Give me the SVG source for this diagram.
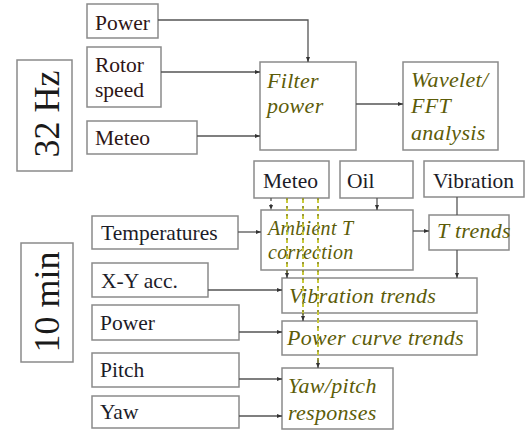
<svg xmlns="http://www.w3.org/2000/svg" width="531" height="432" viewBox="0 0 531 432">
<style>
  .box{fill:#fff;stroke:#8a8a8a;stroke-width:1.5}
  .lbl{font-family:"Liberation Serif","Times New Roman",serif;font-size:21.5px;fill:#1c1c28}
  .lblr{font-family:"Liberation Serif","Times New Roman",serif;font-size:21.5px;fill:#2e1616}
  .big{font-family:"Liberation Serif","Times New Roman",serif;font-size:36px;fill:#1a1a1a}
  .it{font-family:"Liberation Serif","Times New Roman",serif;font-style:italic;font-size:22px;fill:#5c5c08;letter-spacing:0.3px}
  .its{font-size:20px}
  .ln{fill:none;stroke:#555;stroke-width:1.3}
  .dk{fill:none;stroke:#555;stroke-width:1.3;stroke-dasharray:3 3}
  .yl{fill:none;stroke:#c9c93a;stroke-width:2;stroke-dasharray:5 3}
  .yd{fill:none;stroke:#6a6a30;stroke-width:1;stroke-dasharray:2 6}
</style>
<defs>
  <marker id="ah" viewBox="0 0 10 10" refX="10" refY="5" markerWidth="5" markerHeight="5" orient="auto" markerUnits="userSpaceOnUse">
    <path d="M0,1 L10,5 L0,9 z" fill="#333"/>
  </marker>
</defs>
<rect width="531" height="432" fill="#fff"/>

<g id="label-32hz">
  <rect class="box" x="17" y="60" width="55" height="111"/>
  <text class="big" transform="translate(59,114) rotate(-90)" text-anchor="middle">32 Hz</text>
</g>
<g id="label-10min">
  <rect class="box" x="21" y="243" width="52" height="119"/>
  <text class="big" transform="translate(59,302) rotate(-90)" text-anchor="middle">10 min</text>
</g>

<g id="power-hz">
  <rect class="box" x="87" y="4" width="71" height="34"/>
  <text class="lblr" x="95" y="30">Power</text>
</g>
<g id="rotor-speed">
  <rect class="box" x="87" y="47" width="74" height="60"/>
  <text class="lblr" x="95" y="72">Rotor</text>
  <text class="lblr" x="95" y="97">speed</text>
</g>
<g id="meteo-hz">
  <rect class="box" x="87" y="121" width="110" height="33"/>
  <text class="lblr" x="95" y="145">Meteo</text>
</g>
<g id="filter-power">
  <rect class="box" x="260" y="62" width="96" height="88"/>
  <text class="it" x="267" y="88">Filter</text>
  <text class="it" x="267" y="113">power</text>
</g>
<g id="wavelet">
  <rect class="box" x="403" y="62" width="95" height="88"/>
  <text class="it" x="411" y="87">Wavelet/</text>
  <text class="it" x="411" y="113">FFT</text>
  <text class="it" x="411" y="140">analysis</text>
</g>

<g id="meteo-min">
  <rect class="box" x="254" y="161" width="75" height="37"/>
  <text class="lbl" x="263" y="188">Meteo</text>
</g>
<g id="oil">
  <rect class="box" x="340" y="161" width="73" height="37"/>
  <text class="lbl" x="347" y="188">Oil</text>
</g>
<g id="vibration">
  <rect class="box" x="424" y="161" width="100" height="36"/>
  <text class="lbl" x="433" y="188">Vibration</text>
</g>
<g id="temperatures">
  <rect class="box" x="92" y="216" width="146" height="33"/>
  <text class="lbl" x="101" y="240">Temperatures</text>
</g>
<g id="ambient">
  <rect class="box" x="261" y="210" width="152" height="60"/>
  <text class="it its" x="268" y="235" letter-spacing="0.8">Ambient T</text>
  <text class="it its" x="268" y="259" letter-spacing="0.8">correction</text>
</g>
<g id="t-trends">
  <rect class="box" x="429" y="215" width="80" height="35"/>
  <text class="it" x="437" y="238">T trends</text>
</g>
<g id="xy-acc">
  <rect class="box" x="92" y="263" width="116" height="34"/>
  <text class="lbl" x="101" y="288">X-Y acc.</text>
</g>
<g id="vibration-trends">
  <rect class="box" x="282" y="278" width="195" height="35"/>
  <text class="it" x="289" y="303">Vibration trends</text>
</g>
<g id="power-min">
  <rect class="box" x="92" y="305" width="147" height="35"/>
  <text class="lbl" x="100" y="330">Power</text>
</g>
<g id="power-curve">
  <rect class="box" x="282" y="321" width="195" height="34"/>
  <text class="it" x="287" y="345">Power curve trends</text>
</g>
<g id="pitch">
  <rect class="box" x="92" y="353" width="147" height="34"/>
  <text class="lbl" x="100" y="377">Pitch</text>
</g>
<g id="yaw">
  <rect class="box" x="92" y="396" width="147" height="32"/>
  <text class="lbl" x="100" y="419">Yaw</text>
</g>
<g id="yaw-pitch">
  <rect class="box" x="282" y="368" width="111" height="61"/>
  <text class="it" x="288" y="393">Yaw/pitch</text>
  <text class="it" x="288" y="420">responses</text>
</g>

<g id="connectors">
  <path class="ln" d="M158,20 H308 V62" marker-end="url(#ah)"/>
  <path class="ln" d="M161,72 H260" marker-end="url(#ah)"/>
  <path class="ln" d="M197,136 H260" marker-end="url(#ah)"/>
  <path class="ln" d="M356,104 H403" marker-end="url(#ah)"/>
  <path class="dk" d="M271,198 V210" marker-end="url(#ah)"/>
  <path class="ln" d="M377,198 V210" marker-end="url(#ah)"/>
  <path class="ln" d="M238,232 H261" marker-end="url(#ah)"/>
  <path class="ln" d="M413,231 H429" marker-end="url(#ah)"/>
  <path class="ln" d="M457,197 V215"/>
  <path class="ln" d="M457,250 V278" marker-end="url(#ah)"/>
  <path class="ln" d="M208,290 H282" marker-end="url(#ah)"/>
  <path class="ln" d="M239,332 H282" marker-end="url(#ah)"/>
  <path class="ln" d="M239,379 H282" marker-end="url(#ah)"/>
  <path class="ln" d="M239,416 H282" marker-end="url(#ah)"/>
  <path class="yl" d="M287,198 V276"/>
  <path class="yd" d="M287,198 V276"/>
  <path class="dk" d="M287,270 V278" marker-end="url(#ah)"/>
  <path class="yl" d="M303,198 V319"/>
  <path class="yd" d="M303,198 V319"/>
  <path class="dk" d="M303,313 V321" marker-end="url(#ah)"/>
  <path class="yl" d="M318,198 V366"/>
  <path class="yd" d="M318,198 V366"/>
  <path class="dk" d="M318,360 V368" marker-end="url(#ah)"/>
</g>
</svg>
